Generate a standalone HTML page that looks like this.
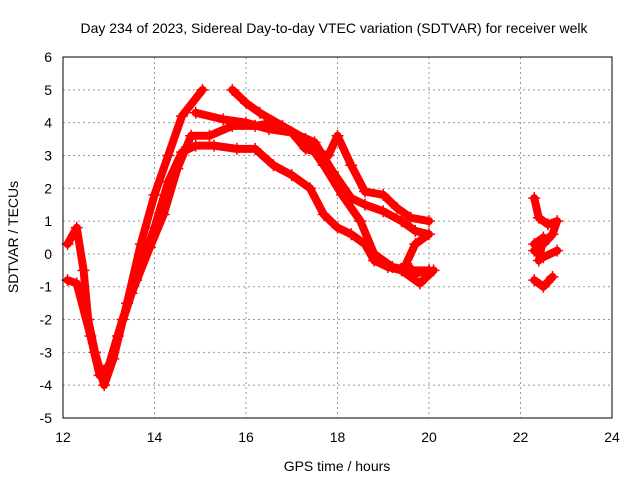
<!DOCTYPE html>
<html><head><meta charset="utf-8"><style>
body{margin:0;background:#fff}
svg text{font-family:"Liberation Sans",sans-serif;font-size:14px;fill:#000}
</style></head><body>
<svg id="c" width="640" height="480">
<text x="334" y="33" text-anchor="middle">Day 234 of 2023, Sidereal Day-to-day VTEC variation (SDTVAR) for receiver welk</text>
<text x="337" y="471" text-anchor="middle">GPS time / hours</text>
<text transform="translate(18,237) rotate(-90)" text-anchor="middle">SDTVAR / TECUs</text>
<g id="grid"></g><g id="marks"></g>
<rect x="63" y="57" width="549" height="361" fill="none" stroke="#000"/>
</svg>
<script>
const xTicks=[12,14,16,18,20,22,24];
const yTicks=[-5,-4,-3,-2,-1,0,1,2,3,4,5,6];
const t1=[[12.1,0.3],[12.3,0.8],[12.45,-0.5],[12.55,-2],[12.7,-3],[12.9,-4],[13.1,-3.2],[13.4,-1.5],[13.7,0.3],[14.0,1.8],[14.3,3],[14.6,4.2],[15.05,5.0]];
const t2=[[14.9,4.3],[15.5,4.1],[16.0,4.0],[16.5,3.8],[17.0,3.7],[17.3,3.2],[17.8,3.0],[18.0,3.6],[18.3,2.7],[18.6,1.9],[19.0,1.8],[19.3,1.4],[19.6,1.1],[20.0,1.0]];
const t3=[[15.7,5.0],[16.0,4.6],[16.3,4.3],[16.8,3.9],[17.3,3.5],[17.7,2.7],[18.1,1.8],[18.5,1.0],[18.8,0],[19.2,-0.4],[19.6,-0.5],[20.0,-0.5]];
const t4=[[12.1,-0.8],[12.3,-0.9],[12.6,-2.5],[12.8,-3.7],[13.0,-3.4],[13.3,-2.0],[13.6,-0.8],[14.0,0.8],[14.3,2.2],[14.6,3.1],[14.9,3.3],[15.3,3.3],[15.8,3.2],[16.2,3.2],[16.6,2.7],[17.0,2.4],[17.4,2.0],[17.7,1.2],[18.0,0.8],[18.3,0.6],[18.6,0.3],[18.8,-0.2],[19.1,-0.4],[19.4,-0.5],[19.8,-0.9],[20.1,-0.5]];
const t5=[[13.2,-2.5],[13.5,-1.2],[13.9,0.2],[14.2,1.2],[14.5,2.6],[14.8,3.6],[15.2,3.6],[15.7,3.9],[16.2,3.9],[16.6,4.0],[17.0,3.7],[17.5,3.4],[17.9,2.5],[18.3,1.7],[18.6,1.5],[19.0,1.3],[19.4,1.0],[19.7,0.7],[20.0,0.6],[19.7,0.3],[19.5,-0.3],[19.7,-0.6],[20.0,-0.5]];
const t6=[[22.3,1.7],[22.4,1.1],[22.6,0.9],[22.8,1.0],[22.7,0.6],[22.5,0.3],[22.3,0.1],[22.5,-0.1],[22.8,0.1]];
const t7=[[22.3,-0.8],[22.5,-1.0],[22.7,-0.7]];
const t8=[[22.3,0.3],[22.5,0.5],[22.4,-0.2]];
const series=[t1,t2,t3,t4,t5,t6,t7,t8];
const X=t=>63+(t-12)*549/12, Y=v=>57+(6-v)*361/11;
const NS="http://www.w3.org/2000/svg";
const grid=document.getElementById('grid'),svg=document.getElementById('c'),marks=document.getElementById('marks');
function mk(tag,at,par){const e=document.createElementNS(NS,tag);for(const k in at)e.setAttribute(k,at[k]);par.appendChild(e);return e;}
xTicks.forEach(t=>{const x=X(t);
 if(t>12&&t<24){const l=mk('line',{x1:x,x2:x,y1:57,y2:418,stroke:'#999','stroke-dasharray':'2,3'},grid);
 
 }
 const tx=mk('text',{x:x,y:442,'text-anchor':'middle'},svg);tx.textContent=t;
 
 });
yTicks.forEach(v=>{const y=Y(v);
 if(v>-5&&v<6){const l=mk('line',{x1:63,x2:612,y1:y,y2:y,stroke:'#999','stroke-dasharray':'2,3'},grid);
 
 }
 const tx=mk('text',{x:52,y:y+5,'text-anchor':'end'},svg);tx.textContent=v;
 
 });
series.forEach((s,i)=>{
 const p=mk('polyline',{points:s.map(d=>X(d[0])+','+Y(d[1])).join(' '),fill:'none',stroke:'#f00','stroke-width':8,'stroke-linejoin':'round','stroke-linecap':'round'},marks);
 
 
 s.forEach(d=>{const x=X(d[0]),y=Y(d[1]);
  const m=mk('path',{d:`M${x-6},${y}h12M${x},${y-6}v12`,stroke:'#f00','stroke-width':1.5},marks);
  
  });
});
</script>
</body></html>
